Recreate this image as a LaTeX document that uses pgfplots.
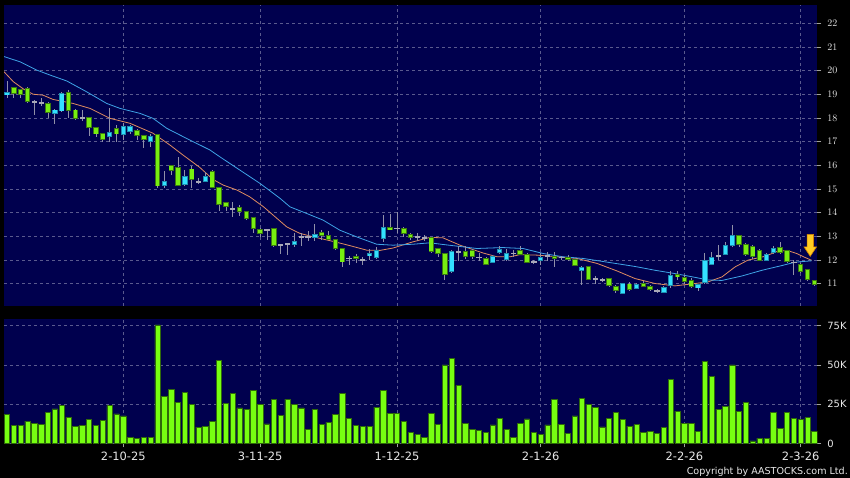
\documentclass[border=0pt]{standalone}
\usepackage{fontspec}
\setmainfont{DejaVu Sans}
\usepackage{pgfplots}
\usepackage{pgfplotstable}
\pgfplotsset{compat=1.18}
\definecolor{navy}{HTML}{00004E}
\definecolor{gridc}{HTML}{5A5A8E}
\definecolor{upfill}{HTML}{33E0FF}
\definecolor{upedge}{HTML}{1E8FB0}
\definecolor{dnfill}{HTML}{77EE11}
\definecolor{dnedge}{HTML}{3C7A10}
\definecolor{wick}{HTML}{9090A8}
\definecolor{doji}{HTML}{A8A8B8}
\definecolor{maO}{HTML}{E08C60}
\definecolor{maB}{HTML}{3FA4E6}
\definecolor{volfill}{HTML}{77FF11}
\definecolor{voledge}{HTML}{2F6A0A}
\definecolor{tickc}{HTML}{A0A0A0}
\definecolor{labc}{HTML}{E8E8E8}
\definecolor{arrowfill}{HTML}{FFCC22}
\definecolor{arrowedge}{HTML}{D08000}

\pgfdeclareplotmark{downarrow}{%
 \pgfpathmoveto{\pgfpoint{0bp}{0bp}}%
 \pgfpathlineto{\pgfpoint{-6.3bp}{9.5bp}}%
 \pgfpathlineto{\pgfpoint{-3.2bp}{9.5bp}}%
 \pgfpathlineto{\pgfpoint{-3.2bp}{22bp}}%
 \pgfpathlineto{\pgfpoint{3.2bp}{22bp}}%
 \pgfpathlineto{\pgfpoint{3.2bp}{9.5bp}}%
 \pgfpathlineto{\pgfpoint{6.3bp}{9.5bp}}%
 \pgfpathclose
 \pgfusepathqfillstroke}

\pgfplotstableread{
i o h l c
0 18.97 19.55 18.82 19.08
1 19.27 19.32 18.82 19.04
2 19.19 19.22 18.82 18.97
3 19.25 19.30 18.62 18.71
4 18.68 18.75 18.12 18.68
5 18.64 18.82 18.50 18.64
6 18.61 18.66 18.00 18.23
7 18.19 18.36 17.73 18.33
8 18.29 19.10 18.25 19.04
9 19.08 19.16 17.98 18.33
10 18.33 18.38 17.90 17.98
11 18.00 18.33 17.85 18.00
12 18.00 18.02 17.24 17.60
13 17.60 17.62 17.20 17.32
14 17.32 17.34 17.00 17.09
15 17.20 18.40 17.00 17.39
16 17.56 17.70 16.99 17.32
17 17.30 17.80 17.05 17.65
18 17.44 17.70 17.30 17.62
19 17.48 17.52 17.05 17.24
20 17.24 17.26 16.74 17.10
21 16.99 17.30 16.78 17.20
22 17.30 17.32 15.05 15.12
23 15.13 15.76 15.05 15.30
24 15.97 16.00 15.58 15.79
25 15.89 16.36 15.10 15.16
26 15.19 15.80 15.12 15.54
27 15.84 15.95 15.05 15.41
28 15.30 15.45 15.20 15.30
29 15.33 15.70 15.28 15.51
30 15.72 15.80 15.02 15.06
31 15.06 15.08 14.05 14.35
32 14.41 14.45 14.05 14.24
33 14.17 14.45 13.79 14.17
34 14.21 14.30 13.85 14.05
35 14.06 14.08 13.70 13.75
36 13.79 13.82 13.12 13.33
37 13.30 13.33 12.95 13.12
38 13.25 13.30 12.85 13.25
39 13.31 13.35 12.55 12.62
40 12.62 12.65 12.26 12.62
41 12.66 12.70 12.20 12.66
42 12.65 13.13 12.55 12.76
43 12.97 13.15 12.60 12.97
44 12.97 13.20 12.80 12.97
45 12.95 13.52 12.80 13.07
46 13.16 13.25 12.82 13.03
47 13.04 13.20 12.85 12.86
48 12.86 12.90 12.40 12.48
49 12.48 12.50 11.70 11.91
50 12.06 12.15 11.80 12.06
51 12.15 12.25 11.85 12.06
52 11.99 12.10 11.80 11.99
53 12.17 12.45 12.00 12.27
54 12.10 12.55 12.05 12.41
55 12.90 13.90 12.75 13.35
56 13.35 13.95 13.25 13.30
57 13.33 14.03 13.12 13.33
58 13.31 13.40 12.98 13.12
59 13.07 13.12 12.85 12.93
60 12.97 13.12 12.80 12.97
61 12.93 13.05 12.78 12.93
62 12.95 12.98 12.28 12.34
63 12.48 12.50 12.10 12.27
64 12.27 12.29 11.14 11.39
65 11.52 12.40 11.45 12.34
66 12.34 12.60 11.95 12.34
67 12.34 12.60 12.05 12.15
68 12.41 12.45 12.05 12.15
69 12.10 12.30 11.95 12.10
70 12.06 12.10 11.78 11.82
71 11.89 12.20 11.85 12.13
72 12.31 12.60 12.25 12.44
73 12.02 12.45 11.95 12.27
74 12.27 12.40 12.10 12.27
75 12.38 12.60 12.20 12.24
76 12.24 12.30 11.85 11.89
77 11.91 12.00 11.82 11.91
78 11.99 12.30 11.78 12.10
79 12.15 12.35 11.95 12.15
80 12.15 12.35 11.68 12.06
81 12.10 12.18 12.00 12.10
82 12.10 12.22 11.95 12.02
83 12.02 12.05 11.75 11.78
84 11.56 11.72 10.93 11.66
85 11.73 11.76 11.15 11.18
86 11.18 11.30 11.00 11.18
87 11.14 11.22 11.05 11.14
88 11.20 11.22 10.85 10.93
89 10.89 10.92 10.62 10.69
90 10.58 11.03 10.55 11.00
91 10.98 11.05 10.70 10.76
92 10.79 11.02 10.75 10.97
93 11.00 11.12 10.85 10.89
94 10.89 10.92 10.70 10.76
95 10.69 10.78 10.62 10.69
96 10.62 10.88 10.58 10.83
97 10.93 11.55 10.82 11.35
98 11.38 11.55 11.15 11.28
99 11.25 11.35 10.98 11.10
100 11.11 11.22 10.82 10.86
101 10.81 11.00 10.70 10.97
102 11.03 12.30 10.98 11.96
103 11.80 12.35 11.78 12.10
104 12.15 12.62 12.00 12.15
105 12.24 12.75 12.20 12.59
106 12.62 13.47 12.55 13.01
107 13.01 13.05 12.55 12.65
108 12.65 12.70 12.15 12.24
109 12.58 12.62 12.05 12.13
110 12.41 12.45 11.95 11.99
111 11.99 12.28 11.95 12.24
112 12.31 12.60 12.25 12.48
113 12.52 12.75 12.25 12.31
114 12.38 12.42 11.85 11.94
115 11.89 12.00 11.35 11.89
116 11.82 11.88 11.45 11.52
117 11.59 11.62 11.10 11.18
118 11.13 11.15 10.90 10.97
}\candles

\pgfplotstableread{
i v
0 18.7
1 11.5
2 11.5
3 14.2
4 13.0
5 12.3
6 19.6
7 22.1
8 24.4
9 16.6
10 11.1
11 11.5
12 15.3
13 11.7
14 14.9
15 24.2
16 18.9
17 17.6
18 3.8
19 3.2
20 4.0
21 4.0
22 75.5
23 30.2
24 34.4
25 26.1
26 32.5
27 24.7
28 10.4
29 10.8
30 14.0
31 52.9
32 25.5
33 32.1
34 22.7
35 21.5
36 34.0
37 25.1
38 12.5
39 28.1
40 18.1
41 28.3
42 24.9
43 22.7
44 9.1
45 21.7
46 12.3
47 13.4
48 18.5
49 31.9
50 15.9
51 11.7
52 11.1
53 10.8
54 23.2
55 34.0
56 19.1
57 19.3
58 14.2
59 7.0
60 5.7
61 4.0
62 19.3
63 12.3
64 50.0
65 54.4
66 36.8
67 13.0
68 9.1
69 8.3
70 7.2
71 11.9
72 16.2
73 8.9
74 4.0
75 12.8
76 15.7
77 7.0
78 6.0
79 11.9
80 28.1
81 12.3
82 6.6
83 17.6
84 28.5
85 25.1
86 23.0
87 10.6
88 16.2
89 20.0
90 15.5
91 11.1
92 12.1
93 7.0
94 7.7
95 6.6
96 10.2
97 41.0
98 20.6
99 13.0
100 13.0
101 7.7
102 52.5
103 42.9
104 21.9
105 23.8
106 50.0
107 20.6
108 26.1
109 1.7
110 3.4
111 3.0
112 20.0
113 9.8
114 19.8
115 16.2
116 15.5
117 16.4
118 7.7
}\volumes

\pgfplotsset{
  panel/.style={
    scale only axis, anchor=south west,
    width=813.3bp,
    xmin=-0.44, xmax=118.43,
    axis background/.style={fill=navy},
    axis line style={draw=none},
    xmajorgrids, ymajorgrids,
    grid style={gridc, line width=0.5bp, dash pattern=on 3bp off 3bp},
    xtick={17,37,57,78,99,116},
    ytick pos=right, yticklabel pos=right,
    tick align=outside,
    major tick length=4bp,
    ytick style={tickc, line width=0.6bp},
    yticklabel style={font=\fontsize{10}{11}\selectfont, text=labc, xshift=2.5bp},
  },
}

\begin{document}
\begin{tikzpicture}
\useasboundingbox (0,0) rectangle (850bp,478bp);
\fill[black] (0,0) rectangle (850bp,478bp);

% ---------------- price panel ----------------
\begin{axis}[panel,
  at={(4bp,172bp)}, height=301bp,
  ymin=10.05, ymax=22.77,
  ytick={11,12,...,22},
  xticklabels={},
  xtick style={draw=none},
]
% moving averages
\addplot[maO, line width=0.8bp, mark=none] coordinates {
(-0.44,19.95) (0.92,19.53) (2.5,19.20) (3.8,19.00) (5.26,18.96) (6.72,18.78)
(9.65,18.61) (12.13,18.40) (15.05,17.98) (17.98,17.77) (21.34,17.35)
(23.82,16.85) (25.72,16.43) (28.2,15.90) (30.1,15.40) (31.6,15.16)
(33.6,14.95) (35.5,14.66) (37.5,14.24) (38.9,13.89) (40.9,13.39)
(42.8,13.12) (44.8,12.97) (47.65,12.78) (50.13,12.60) (52.57,12.41)
(54.52,12.40) (56.42,12.50) (59.19,12.75) (61.82,12.95) (63.72,12.93)
(66.21,12.62) (69.57,12.29) (71.62,12.13) (73.52,12.13) (74.98,12.22)
(77.46,12.20) (80.39,12.13) (83.31,12.06) (86.23,11.85) (89.16,11.53)
(91.79,11.21) (94.71,11.00) (97.63,10.90) (100.56,11.00) (102.46,11.07)
(104.5,11.28) (106.4,11.70) (108.3,11.99) (110.8,12.15) (112.5,12.35)
(114.0,12.40) (115.4,12.27) (116.5,12.12) (117.6,11.98)
};
\addplot[maB, line width=0.8bp, mark=none] coordinates {
(-0.44,20.59) (1.9,20.37) (4.34,20.02) (6.28,19.81) (8.73,19.56)
(11.65,19.10) (14.57,18.61) (16.52,18.40) (19.44,18.19) (21.34,17.98)
(23.34,17.56) (26.26,17.13) (28.21,16.85) (29.67,16.64) (31.13,16.35)
(34.05,15.79) (36.98,15.23) (39.9,14.60) (41.36,14.24) (43.8,13.96)
(46.19,13.68) (48.67,13.25) (51.11,12.97) (54.03,12.66) (56.42,12.62)
(59.34,12.66) (61.82,12.72) (63.72,12.65) (68.69,12.48) (72.49,12.52)
(75.42,12.48) (78.34,12.27) (81.26,12.13) (84.19,12.06) (87.11,11.93)
(89.59,11.82) (91.79,11.72) (94.71,11.56) (97.63,11.42) (100.56,11.26)
(102.46,11.15) (104.5,11.13) (107.43,11.32) (110.35,11.56) (113.27,11.76)
(115.17,11.90) (117.6,11.96)
};
% wicks
\addplot[draw=none, mark=none, forget plot,
  error bars/.cd, y dir=both, y explicit, error mark=none,
  error bar style={draw=wick, line width=0.9bp}]
  table[x=i, y expr={(\thisrow{h}+\thisrow{l})/2}, y error expr={(\thisrow{h}-\thisrow{l})/2}] {\candles};
% down bodies
\addplot[draw=none, mark=none, forget plot,
  restrict expr to domain={\thisrow{o}-\thisrow{c}}{0.001:100},
  error bars/.cd, y dir=both, y explicit, error mark=none,
  error bar style={draw=dnedge, line width=5.4bp}]
  table[x=i, y expr={(\thisrow{o}+\thisrow{c})/2}, y error expr={abs(\thisrow{o}-\thisrow{c})/2+0.02}] {\candles};
\addplot[draw=none, mark=none, forget plot,
  restrict expr to domain={\thisrow{o}-\thisrow{c}}{0.001:100},
  error bars/.cd, y dir=both, y explicit, error mark=none,
  error bar style={draw=dnfill, line width=3.6bp}]
  table[x=i, y expr={(\thisrow{o}+\thisrow{c})/2}, y error expr={max(abs(\thisrow{o}-\thisrow{c})/2-0.018,0.006)}] {\candles};
% up bodies
\addplot[draw=none, mark=none, forget plot,
  restrict expr to domain={\thisrow{c}-\thisrow{o}}{0.001:100},
  error bars/.cd, y dir=both, y explicit, error mark=none,
  error bar style={draw=upedge, line width=5.4bp}]
  table[x=i, y expr={(\thisrow{o}+\thisrow{c})/2}, y error expr={abs(\thisrow{o}-\thisrow{c})/2+0.02}] {\candles};
\addplot[draw=none, mark=none, forget plot,
  restrict expr to domain={\thisrow{c}-\thisrow{o}}{0.001:100},
  error bars/.cd, y dir=both, y explicit, error mark=none,
  error bar style={draw=upfill, line width=3.6bp}]
  table[x=i, y expr={(\thisrow{o}+\thisrow{c})/2}, y error expr={max(abs(\thisrow{o}-\thisrow{c})/2-0.018,0.006)}] {\candles};
% doji
\addplot[draw=none, mark=none, forget plot,
  restrict expr to domain={\thisrow{c}-\thisrow{o}}{-0.0005:0.0005},
  error bars/.cd, y dir=both, y explicit, error mark=none,
  error bar style={draw=doji, line width=5.4bp}]
  table[x=i, y=c, y error expr={0.035}] {\candles};
% arrow
\addplot[only marks, mark=downarrow, mark options={fill=arrowfill, draw=arrowedge, line width=0.6bp}] coordinates {(117.4,12.15)};
\end{axis}

% ---------------- volume panel ----------------
\begin{axis}[panel,
  at={(4bp,34.5bp)}, height=124.5bp,
  ymin=0, ymax=79.3,
  ytick={0,25,50,75},
  yticklabels={0,25K,50K,75K},
  xticklabels={2-10-25,3-11-25,1-12-25,2-1-26,2-2-26,2-3-26},
  xtick pos=bottom,
  xtick style={tickc, line width=0.6bp},
  xticklabel style={font=\fontsize{11.5}{12}\selectfont, text=labc, yshift=-1bp},
]
\addplot[ybar, bar width=0.78, fill=volfill, draw=voledge, line width=0.6bp] table[x=i, y=v] {\volumes};
\end{axis}

\node[anchor=base east, text=labc, font=\fontsize{9.6}{10}\selectfont, inner sep=0pt] at (848bp,4bp) {Copyright by AASTOCKS.com Ltd.};
\end{tikzpicture}
\end{document}
